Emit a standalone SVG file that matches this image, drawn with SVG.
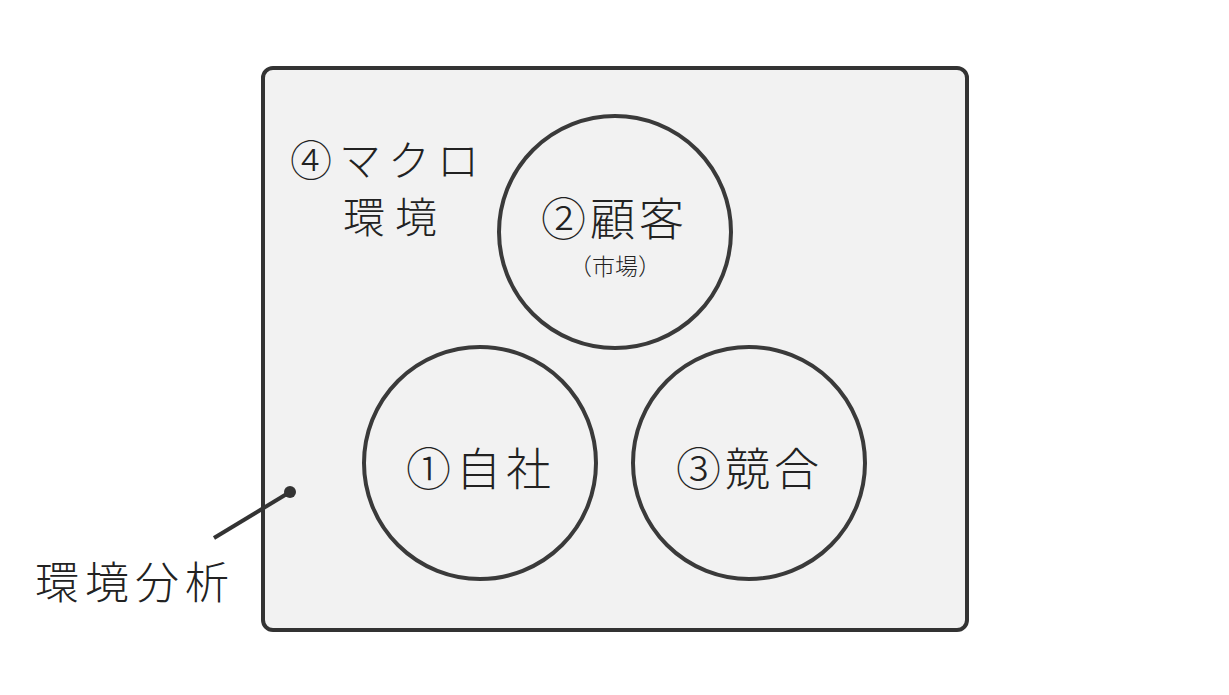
<svg xmlns="http://www.w3.org/2000/svg" width="1229" height="695" viewBox="0 0 1229 695">
<style>
.t{font-family:"Noto Sans CJK JP","Noto Sans",sans-serif;font-weight:300;fill:#222;}
.c{fill:none;stroke:#3a3a3a;stroke-width:4;}
</style>
<rect width="1229" height="695" fill="#ffffff"/>
<g id="frame">
<rect x="263" y="68" width="704" height="562" rx="10" fill="#f2f2f2" stroke="#333" stroke-width="4"/>
<text class="t" x="290" y="176" font-size="42" letter-spacing="7">④マクロ</text>
<text class="t" x="343" y="233" font-size="42" letter-spacing="10">環境</text>
</g>
<g id="customer">
<circle class="c" cx="615" cy="232" r="116"/>
<text class="t" x="541" y="236" font-size="45" letter-spacing="4">②顧客</text>
<text class="t" x="615" y="275" font-size="23" text-anchor="middle">（市場）</text>
</g>
<g id="company">
<circle class="c" cx="480" cy="463" r="116"/>
<text class="t" x="406" y="486" font-size="45" letter-spacing="5">①自社</text>
</g>
<g id="competitor">
<circle class="c" cx="749" cy="463" r="116"/>
<text class="t" x="676" y="486" font-size="45" letter-spacing="4">③競合</text>
</g>
<g id="connectors">
<line x1="214" y1="538" x2="290" y2="492" stroke="#333" stroke-width="4"/>
<circle cx="290" cy="492" r="6" fill="#333"/>
</g>
<g id="label">
<text class="t" x="35" y="599" font-size="44" letter-spacing="6">環境分析</text>
</g>
</svg>
